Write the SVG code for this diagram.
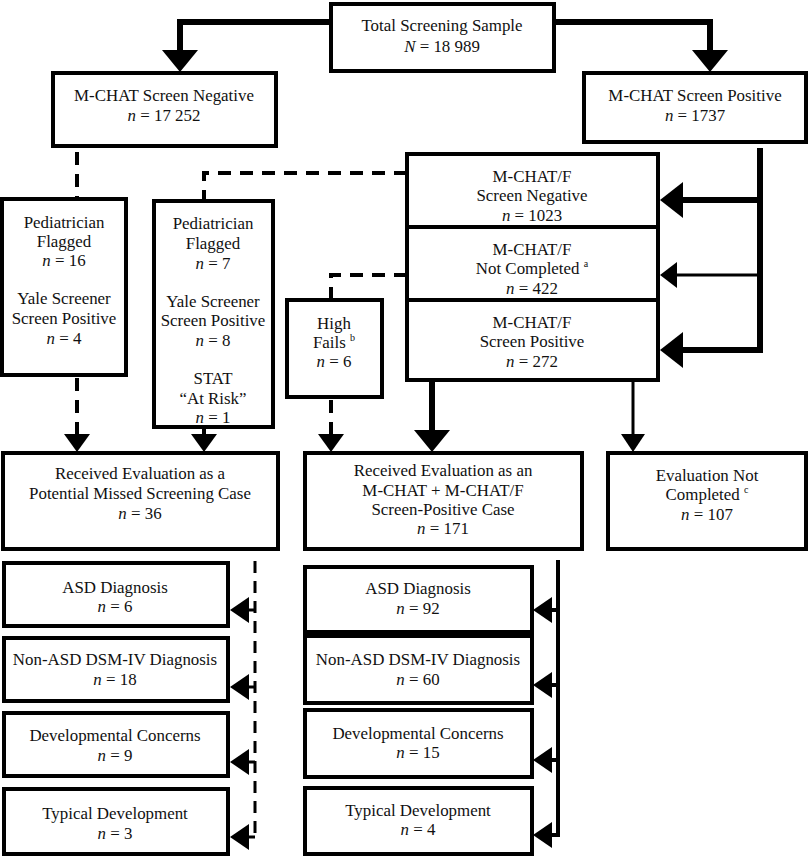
<svg xmlns="http://www.w3.org/2000/svg" width="810" height="857" viewBox="0 0 810 857">
<defs>
<style>
.box{fill:#fff;stroke:#000;stroke-width:4}
text{font-family:"Liberation Serif","Times New Roman",serif;font-size:16.9px;fill:#111;text-anchor:middle}
.it{font-style:italic}
.sup{font-size:10px}
.thick{fill:none;stroke:#000;stroke-width:6}
.mid{fill:none;stroke:#000;stroke-width:4}
.thin{fill:none;stroke:#000;stroke-width:3}
.dash{fill:none;stroke:#000;stroke-width:4;stroke-dasharray:13 9}
.dashs{fill:none;stroke:#000;stroke-width:3;stroke-dasharray:12 8}
.head{fill:#000}
</style>
</defs>
<rect width="810" height="857" fill="#fff"/>

<g id="connectors">
<path class="thick" d="M331,22 H180 V52"/>
<polygon class="head" points="162,50 198,50 180,72"/>
<path class="thick" d="M554,22 H710 V52"/>
<polygon class="head" points="692,50 728,50 710,72"/>
<path class="thick" d="M760,148 V350 H680"/>
<path class="thick" d="M760,200 H680"/>
<polygon class="head" points="660,200 683,182 683,218"/>
<path class="thin" d="M760,275 H675"/>
<polygon class="head" points="660,275 677,262 677,288"/>
<polygon class="head" points="660,350 683,332 683,368"/>
<path class="dash" d="M407,173 H204 V199"/>
<path class="dash" d="M407,275 H331 V299"/>
<path class="dash" d="M77,152 V198"/>
<path class="dash" d="M77,378 V436"/>
<polygon class="head" points="64,434 90,434 77,452"/>
<path class="dash" d="M204,429 V436"/>
<polygon class="head" points="191,434 217,434 204,452"/>
<path class="dash" d="M331,400 V436"/>
<polygon class="head" points="318,434 344,434 331,452"/>
<path class="thick" d="M432,381 V432"/>
<polygon class="head" points="414,430 450,430 432,452"/>
<path class="thin" d="M633,381 V436"/>
<polygon class="head" points="621,434 645,434 633,452"/>
<path class="dashs" d="M255,561 V837"/>
<path class="thin" d="M255,610 H245"/>
<polygon class="head" points="230,610 249,597 249,623"/>
<path class="thin" d="M255,687 H245"/>
<polygon class="head" points="230,687 249,674 249,700"/>
<path class="thin" d="M255,762 H245"/>
<polygon class="head" points="230,762 249,749 249,775"/>
<path class="thin" d="M255,837 H245"/>
<polygon class="head" points="230,837 249,824 249,850"/>
<path class="mid" d="M558,560 V835 H550"/>
<path class="mid" d="M558,610 H550"/>
<polygon class="head" points="533,610 552,597 552,623"/>
<path class="mid" d="M558,685 H550"/>
<polygon class="head" points="533,685 552,672 552,698"/>
<path class="mid" d="M558,760 H550"/>
<polygon class="head" points="533,760 552,747 552,773"/>
<polygon class="head" points="533,835 552,822 552,848"/>
</g>

<g id="total">
<rect class="box" x="331" y="4" width="223" height="67"/>
<text x="442" y="31">Total Screening Sample</text>
<text x="442" y="52"><tspan class="it">N</tspan> = 18 989</text>
</g>
<g id="mchat-neg">
<rect class="box" x="53" y="73" width="223" height="73"/>
<text x="164" y="101">M-CHAT Screen Negative</text>
<text x="164" y="121"><tspan class="it">n</tspan> = 17 252</text>
</g>
<g id="mchat-pos">
<rect class="box" x="584" y="73" width="222" height="69"/>
<text x="695" y="101">M-CHAT Screen Positive</text>
<text x="695" y="121"><tspan class="it">n</tspan> = 1737</text>
</g>
<g id="mchatf-neg">
<rect class="box" x="407" y="154" width="251" height="73"/>
<text x="532" y="182">M-CHAT/F</text>
<text x="532" y="201">Screen Negative</text>
<text x="532" y="221"><tspan class="it">n</tspan> = 1023</text>
</g>
<g id="mchatf-nc">
<rect class="box" x="407" y="227" width="251" height="73"/>
<text x="532" y="255">M-CHAT/F</text>
<text x="532" y="274">Not Completed <tspan class="sup" dy="-7">a</tspan></text>
<text x="532" y="294"><tspan class="it">n</tspan> = 422</text>
</g>
<g id="mchatf-pos">
<rect class="box" x="407" y="300" width="251" height="80"/>
<text x="532" y="328">M-CHAT/F</text>
<text x="532" y="347">Screen Positive</text>
<text x="532" y="367"><tspan class="it">n</tspan> = 272</text>
</g>
<g id="ped16">
<rect class="box" x="2" y="199" width="124" height="176"/>
<text x="64" y="228">Pediatrician</text>
<text x="64" y="247">Flagged</text>
<text x="64" y="266"><tspan class="it">n</tspan> = 16</text>
<text x="64" y="304">Yale Screener</text>
<text x="64" y="324">Screen Positive</text>
<text x="64" y="344"><tspan class="it">n</tspan> = 4</text>
</g>
<g id="ped7">
<rect class="box" x="154" y="201" width="119" height="226"/>
<text x="213" y="229">Pediatrician</text>
<text x="213" y="249">Flagged</text>
<text x="213" y="269"><tspan class="it">n</tspan> = 7</text>
<text x="213" y="307">Yale Screener</text>
<text x="213" y="326">Screen Positive</text>
<text x="213" y="346"><tspan class="it">n</tspan> = 8</text>
<text x="213" y="384">STAT</text>
<text x="213" y="404">“At Risk”</text>
<text x="213" y="423"><tspan class="it">n</tspan> = 1</text>
</g>
<g id="highfails">
<rect class="box" x="287" y="300" width="95" height="97"/>
<text x="334" y="329">High</text>
<text x="334" y="348">Fails <tspan class="sup" dy="-7">b</tspan></text>
<text x="334" y="367"><tspan class="it">n</tspan> = 6</text>
</g>
<g id="eval-missed">
<rect class="box" x="3" y="453" width="275" height="96"/>
<text x="140" y="479">Received Evaluation as a</text>
<text x="140" y="499">Potential Missed Screening Case</text>
<text x="140" y="519"><tspan class="it">n</tspan> = 36</text>
</g>
<g id="eval-pos">
<rect class="box" x="305" y="453" width="277" height="96"/>
<text x="443" y="476">Received Evaluation as an</text>
<text x="443" y="496">M-CHAT + M-CHAT/F</text>
<text x="443" y="515">Screen-Positive Case</text>
<text x="443" y="534"><tspan class="it">n</tspan> = 171</text>
</g>
<g id="eval-nc">
<rect class="box" x="608" y="453" width="198" height="96"/>
<text x="707" y="481">Evaluation Not</text>
<text x="707" y="500">Completed <tspan class="sup" dy="-7">c</tspan></text>
<text x="707" y="520"><tspan class="it">n</tspan> = 107</text>
</g>
<g id="l-asd">
<rect class="box" x="4" y="563" width="224" height="63"/>
<text x="115" y="593">ASD Diagnosis</text>
<text x="115" y="612"><tspan class="it">n</tspan> = 6</text>
</g>
<g id="l-nonasd">
<rect class="box" x="4" y="638" width="224" height="63"/>
<text x="115" y="665">Non-ASD DSM-IV Diagnosis</text>
<text x="115" y="685"><tspan class="it">n</tspan> = 18</text>
</g>
<g id="l-dev">
<rect class="box" x="4" y="713" width="224" height="63"/>
<text x="115" y="741">Developmental Concerns</text>
<text x="115" y="761"><tspan class="it">n</tspan> = 9</text>
</g>
<g id="l-typ">
<rect class="box" x="4" y="789" width="224" height="65"/>
<text x="115" y="819">Typical Development</text>
<text x="115" y="839"><tspan class="it">n</tspan> = 3</text>
</g>
<g id="m-asd">
<rect class="box" x="305" y="567" width="227" height="65"/>
<text x="418" y="594">ASD Diagnosis</text>
<text x="418" y="614"><tspan class="it">n</tspan> = 92</text>
</g>
<g id="m-nonasd">
<rect class="box" x="305" y="636" width="227" height="67"/>
<text x="418" y="665">Non-ASD DSM-IV Diagnosis</text>
<text x="418" y="685"><tspan class="it">n</tspan> = 60</text>
</g>
<g id="m-dev">
<rect class="box" x="305" y="710" width="227" height="67"/>
<text x="418" y="739">Developmental Concerns</text>
<text x="418" y="758"><tspan class="it">n</tspan> = 15</text>
</g>
<g id="m-typ">
<rect class="box" x="305" y="788" width="227" height="66"/>
<text x="418" y="816">Typical Development</text>
<text x="418" y="835"><tspan class="it">n</tspan> = 4</text>
</g>
</svg>
